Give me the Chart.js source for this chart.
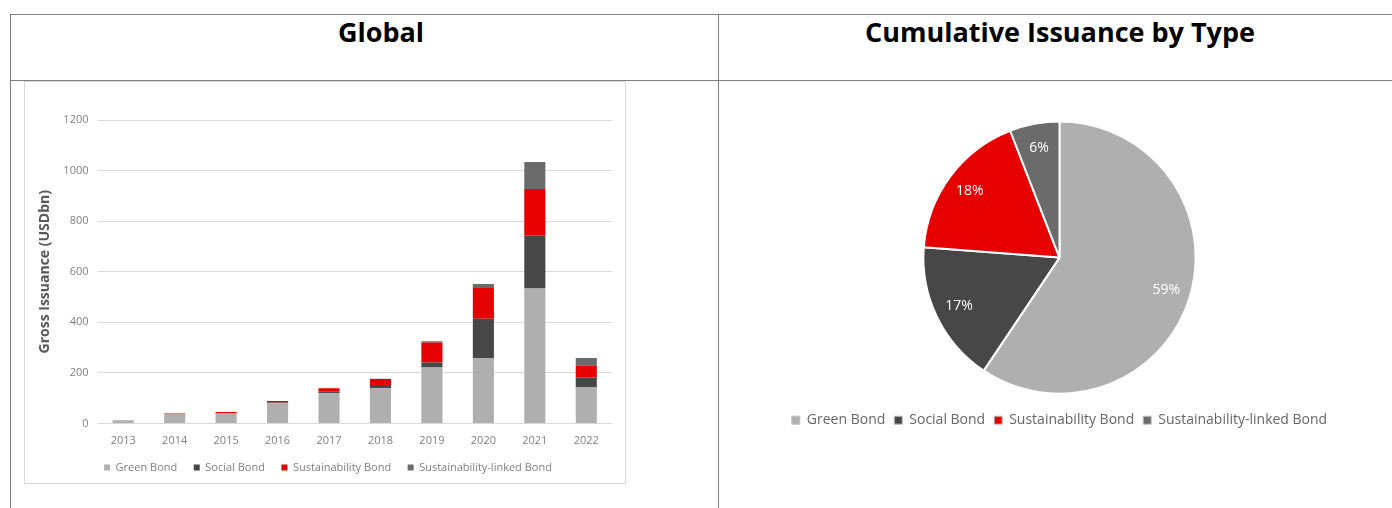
<!DOCTYPE html>
<html lang="en">
<head>
<meta charset="UTF-8">
<title>Global bond issuance</title>
<script src="https://cdn.jsdelivr.net/npm/chart.js"></script>
<style>
  body { margin: 0; width: 1392px; height: 508px; background: #fff; overflow: hidden; position: relative; font-family: "Open Sans", sans-serif; }
  .hline { position: absolute; left: 10px; width: 1382px; height: 1px; background: #7f7f7f; }
  .vline { position: absolute; top: 14px; width: 1px; height: 494px; background: #7f7f7f; }
  .title { position: absolute; top: 14px; height: 36px; line-height: 36px; font-weight: 700; font-size: 27px; color: #000; text-align: center; white-space: nowrap; }
  .box { position: absolute; left: 24px; top: 81px; width: 600px; height: 401px; border: 1px solid #d9d9d9; }
  canvas { position: absolute; }
</style>
</head>
<body>

<div class="hline" style="top:14px"></div>
<div class="hline" style="top:80px"></div>
<div class="vline" style="left:10px"></div>
<div class="vline" style="left:718px"></div>

<div class="title" style="left:231px; width:300px;">Global</div>
<div class="title" style="left:860px; width:400px;">Cumulative Issuance by Type</div>

<div class="box"></div>
<canvas id="barChart" style="left:25px; top:82px;" width="600" height="401"></canvas>
<canvas id="pieChart" style="left:719px; top:81px;" width="673" height="427"></canvas>

<script>
// gross issuance, USD bn
const years = ['2013', '2014', '2015', '2016', '2017', '2018', '2019', '2020', '2021', '2022'];
const greenBond = [12, 36, 40, 80, 120, 139, 221, 259, 534, 142];
const socialBond = [1, 1, 1, 3, 8, 13, 20, 155, 208, 40];
const sustainabilityBond = [0, 3, 4, 6, 11, 24, 79, 125, 185, 46];
const slBond = [0, 0, 0, 0, 0, 1, 5, 13, 107, 31];

// cumulative share by type, %
const bondTypes = ['Green Bond', 'Social Bond', 'Sustainability Bond', 'Sustainability-linked Bond'];
const typeShares = [59.4, 16.8, 17.9, 5.9];

const colors = ['#afafaf', '#474747', '#e60000', '#6b6b6b'];
const textGrey = '#7f7f7f';

Chart.defaults.font.family = '"Open Sans", sans-serif';
Chart.defaults.animation = false;

new Chart(document.getElementById('barChart'), {
    type: 'bar',
    data: {
        labels: years,
        datasets: [
            { label: 'Green Bond', data: greenBond, backgroundColor: colors[0] },
            { label: 'Social Bond', data: socialBond, backgroundColor: colors[1] },
            { label: 'Sustainability Bond', data: sustainabilityBond, backgroundColor: colors[2] },
            { label: 'Sustainability-linked Bond', data: slBond, backgroundColor: colors[3] }
        ]
    },
    options: {
        responsive: false,
        layout: { padding: { left: 19, right: 13, top: 38, bottom: 0 } },
        datasets: { bar: { categoryPercentage: 1, barPercentage: 0.41 } },
        plugins: {
            legend: {
                position: 'bottom',
                labels: { boxWidth: 6, boxHeight: 6, padding: 16.5, color: textGrey, font: { size: 11 } }
            },
            tooltip: { enabled: false }
        },
        scales: {
            x: {
                stacked: true,
                grid: { display: false },
                border: { display: false },
                ticks: { color: textGrey, font: { size: 11 }, padding: 3 },
                afterFit: s => { s.height = 22; }
            },
            y: {
                stacked: true,
                min: 0,
                max: 1200,
                ticks: { stepSize: 200, color: textGrey, font: { size: 11 }, padding: 9, callback: v => String(v) },
                grid: { color: '#d9d9d9', drawTicks: false },
                border: { display: false },
                title: {
                    display: true,
                    text: 'Gross Issuance (USDbn)',
                    color: '#595959',
                    font: { size: 14, weight: 'bold' },
                    padding: { top: -7, bottom: 0 }
                },
                afterFit: s => { s.width = 53.5; }
            }
        }
    }
});

// percentage labels inside the slices
const sliceLabels = {
    id: 'sliceLabels',
    afterDatasetsDraw(chart) {
        const ctx = chart.ctx;
        const meta = chart.getDatasetMeta(0);
        ctx.save();
        ctx.font = '14px "Open Sans", sans-serif';
        ctx.fillStyle = '#ffffff';
        ctx.textAlign = 'center';
        ctx.textBaseline = 'middle';
        meta.data.forEach((arc, i) => {
            const p = arc.getProps(['x', 'y', 'startAngle', 'endAngle', 'outerRadius'], true);
            const mid = (p.startAngle + p.endAngle) / 2;
            const r = p.outerRadius * 0.82;
            ctx.fillText(Math.round(typeShares[i]) + '%', p.x + Math.cos(mid) * r, p.y + Math.sin(mid) * r);
        });
        ctx.restore();
    }
};

new Chart(document.getElementById('pieChart'), {
    type: 'pie',
    data: {
        labels: bondTypes,
        datasets: [{
            data: typeShares,
            backgroundColor: colors,
            borderColor: '#ffffff',
            borderWidth: 2,
            hoverBorderWidth: 2,
            hoverOffset: 0
        }]
    },
    options: {
        responsive: false,
        layout: { padding: { left: 8, right: 0, top: 39.5, bottom: 70.8 } },
        plugins: {
            legend: {
                position: 'bottom',
                title: { display: true, text: '', font: { size: 1 }, padding: { top: 8.3, bottom: 0 } },
                labels: {
                    boxWidth: 8,
                    boxHeight: 8,
                    padding: 9,
                    color: '#595959',
                    font: { size: 14 },
                    generateLabels(chart) {
                        return chart.data.labels.map((label, i) => ({
                            text: label,
                            fillStyle: colors[i],
                            strokeStyle: '#bfbfbf',
                            lineWidth: 1,
                            index: i
                        }));
                    }
                }
            },
            tooltip: { enabled: false }
        }
    },
    plugins: [sliceLabels]
});
</script>

</body>
</html>
